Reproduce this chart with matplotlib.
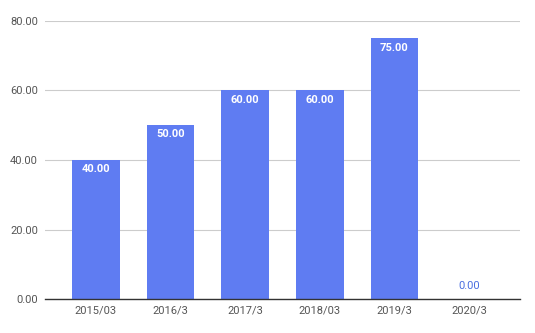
import matplotlib
matplotlib.use("Agg")
import matplotlib.pyplot as plt

categories = ["2015/03", "2016/3", "2017/3", "2018/03", "2019/3", "2020/3"]
values = [40, 50, 60, 60, 75, 0]
yticks = [0, 20, 40, 60, 80]

plt.rcParams['font.family'] = ['Roboto', 'DejaVu Sans']

fig = plt.figure(figsize=(5.35, 3.33), dpi=100)
ax = fig.add_axes([0.084, 0.102, 0.888, 0.835])

color = '#5f7cf2'
x = list(range(len(categories)))
ax.bar(x, values, width=0.64, color=color, zorder=3)

for xi, v in zip(x, values):
    if v > 0:
        ax.annotate(f"{v:.2f}", (xi, v), xytext=(0, -3), textcoords='offset points',
                    ha='center', va='top', color='white', fontsize=8, fontweight='bold', zorder=4)
    else:
        ax.annotate(f"{v:.2f}", (xi, v), xytext=(0, 6), textcoords='offset points',
                    ha='center', va='bottom', color='#4a6ee0', fontsize=8, zorder=4)

ax.set_xlim(-0.684, 5.684)
ax.set_ylim(0, 80)
ax.set_yticks(yticks)
ax.set_yticklabels([f"{t:.2f}" for t in yticks])
ax.set_xticks(x)
ax.set_xticklabels(categories)
ax.tick_params(axis='both', length=0, labelsize=8, labelcolor='#555555')
ax.tick_params(axis='x', pad=5)
ax.tick_params(axis='y', pad=5)
ax.grid(axis='y', color='#cccccc', linewidth=0.8, zorder=0)
for s in ['top', 'right', 'left']:
    ax.spines[s].set_visible(False)
ax.spines['bottom'].set_color('#333333')
ax.spines['bottom'].set_linewidth(1)
ax.spines['bottom'].set_zorder(5)

fig.savefig("out.png", dpi=100)
